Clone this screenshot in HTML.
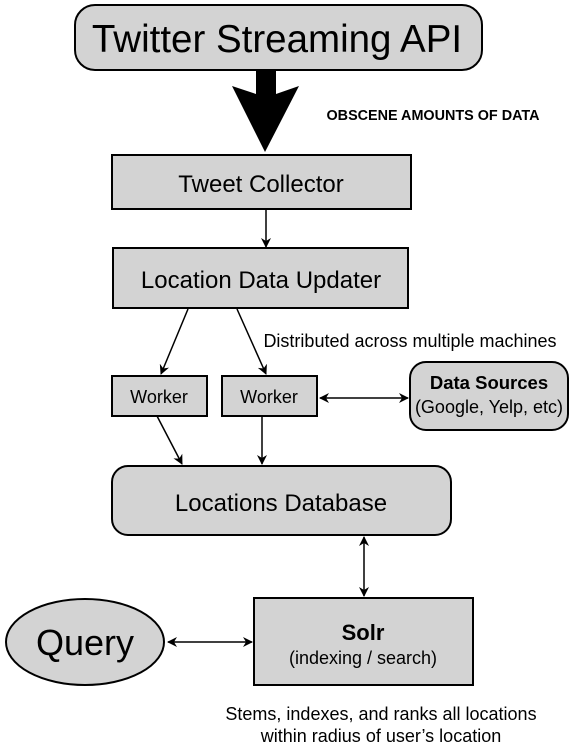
<!DOCTYPE html>
<html><head><style>body{margin:0;background:#fff}svg{display:block}</style></head><body>
<svg width="574" height="747" viewBox="0 0 574 747" xmlns="http://www.w3.org/2000/svg" font-family="Liberation Sans, sans-serif">
<defs>
<marker id="a" viewBox="0 0 10 10" refX="9" refY="5" markerWidth="10" markerHeight="10" orient="auto-start-reverse" markerUnits="userSpaceOnUse"><path d="M0,0 L10,5 L0,10 L3,5 z" fill="#000"/></marker>
</defs>
<g fill="#d3d3d3" stroke="#000" stroke-width="2">
<rect x="75" y="5" width="407" height="65" rx="20"/>
<rect x="112" y="155" width="299" height="54"/>
<rect x="113" y="248" width="295" height="60"/>
<rect x="112" y="376" width="95" height="40"/>
<rect x="222" y="376" width="95" height="40"/>
<rect x="410" y="362" width="158" height="68" rx="16"/>
<rect x="112" y="466" width="339" height="69" rx="16"/>
<rect x="254" y="598" width="219" height="87"/>
<ellipse cx="85" cy="642" rx="79" ry="43"/>
</g>
<path d="M256,70 L276,70 L276,94 L299,86 L265,152 L232,86 L256,94 z" fill="#000"/>
<g stroke="#000" stroke-width="1.5" fill="none">
<line x1="266" y1="209" x2="266" y2="247" marker-end="url(#a)"/>
<line x1="188" y1="309" x2="161" y2="374" marker-end="url(#a)"/>
<line x1="237" y1="309" x2="266" y2="374" marker-end="url(#a)"/>
<line x1="157" y1="416" x2="182" y2="464" marker-end="url(#a)"/>
<line x1="262" y1="416" x2="262" y2="464" marker-end="url(#a)"/>
<line x1="320" y1="398" x2="408" y2="398" marker-start="url(#a)" marker-end="url(#a)"/>
<line x1="364" y1="537" x2="364" y2="596" marker-start="url(#a)" marker-end="url(#a)"/>
<line x1="168" y1="642" x2="252" y2="642" marker-start="url(#a)" marker-end="url(#a)"/>
</g>
<g text-anchor="middle" fill="#000">
<text x="277" y="52" font-size="38.5">Twitter Streaming API</text>
<text x="433" y="120" font-size="14.4" font-weight="bold" textLength="213" lengthAdjust="spacingAndGlyphs">OBSCENE AMOUNTS OF DATA</text>
<text x="261" y="192" font-size="24">Tweet Collector</text>
<text x="261" y="288" font-size="24">Location Data Updater</text>
<text x="410" y="347" font-size="18">Distributed across multiple machines</text>
<text x="159" y="403" font-size="18">Worker</text>
<text x="269" y="403" font-size="18">Worker</text>
<text x="489" y="389" font-size="18.5" font-weight="bold">Data Sources</text>
<text x="489" y="413" font-size="18">(Google, Yelp, etc)</text>
<text x="281" y="511" font-size="24">Locations Database</text>
<text x="363" y="640" font-size="22" font-weight="bold">Solr</text>
<text x="363" y="664" font-size="18">(indexing / search)</text>
<text x="85" y="655" font-size="36">Query</text>
<text x="381" y="720" font-size="18">Stems, indexes, and ranks all locations</text>
<text x="381" y="742" font-size="18">within radius of user’s location</text>
</g>
</svg>
</body></html>
